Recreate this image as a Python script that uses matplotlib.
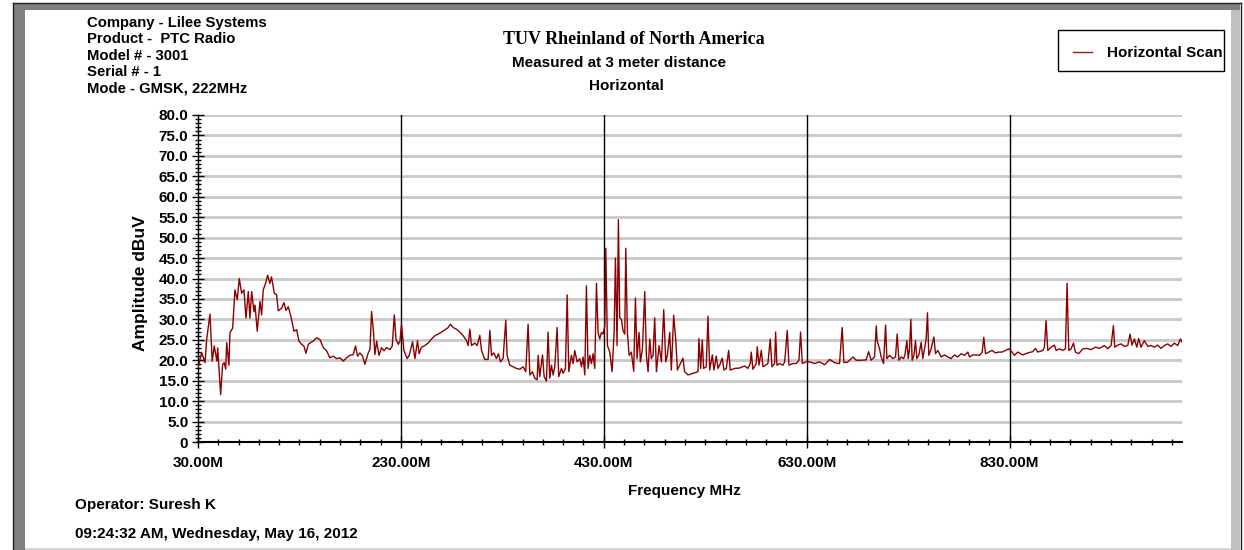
import matplotlib
matplotlib.use("Agg")
import matplotlib.pyplot as plt
from matplotlib.patches import Rectangle
from matplotlib.lines import Line2D
from matplotlib.ticker import MultipleLocator, FixedLocator, FuncFormatter

plt.rcParams['font.family'] = ['Liberation Sans', 'DejaVu Sans']
plt.rcParams['font.weight'] = 'bold'

# frequency (MHz) and amplitude (dBuV)
freq = [30, 33.6, 37, 38.5, 41.8, 44, 46, 48.6, 49.4, 52.3, 54.3, 55.9, 57.3, 58.3, 60.5, 61.5,
        64.2, 66.4, 68.7, 70.7, 73, 75.3, 77.3, 79.6, 81.2, 82.9, 85.2, 86.2, 88.4, 91.1, 92.7,
        94.3, 96.6, 98.6, 100.9, 102.5, 105.2, 107.5, 109.1, 112.4, 114.7, 116.7, 119, 121.6,
        124.6, 127.2, 129.5, 132.1, 134.4, 136.4, 138.7, 141, 143.6, 146.9, 150.2, 153.5, 156.8,
        160, 163.3, 166.6, 169.9, 173.2, 176.5, 179.7, 183, 185.3, 187.3, 189.6, 192.2, 194.5,
        197.8, 199.5, 201.1, 202.8, 204.4, 206.1, 208.4, 211, 213.3, 216, 219.2, 221.5, 223.5,
        225.2, 227.5, 229.1,
        230.6, 233, 236.2, 238.2, 241.5, 243.8, 246.4, 248, 250.3, 253.6, 256.9, 260.2, 263.5,
        266.8, 270, 273.3, 276.6, 278.9, 281.5, 284.8, 288.1, 291.4, 294.7, 296.3, 298, 299.6,
        302.9, 305.2, 307.8, 309.5, 312.7, 316, 317.7, 319.3, 321.6, 324.2, 326.2, 328.2, 330.8,
        333.4, 334.7, 337.4, 340.7, 343.9, 347.2, 350.5, 353.1, 355.4, 357.1, 359.7, 362, 364.3,
        365.3, 366.9, 369.6, 371.2, 373.5, 375.1, 376.8, 378.4, 380.1, 381.7, 384, 385.6, 388.3,
        389.9, 392.2, 393.9, 395.5, 398.1, 399.8, 401.4, 403.7, 406.3, 408, 409.6, 411.3, 412.9,
        414.5, 416.2, 417.8, 419.5, 421.1, 422.8, 424.4, 426, 427.7, 429.3, 431, 432, 433.6,
        435.9, 438.2, 440.2, 441.5, 443.1, 444.4, 445.7, 447.4, 449, 450.7, 451.7, 453.3, 455,
        457.2, 459.5, 461.2, 462.8, 464.8, 466.1, 468.1, 470.4, 472, 473.7, 475.3, 476.9, 478.6,
        480.2, 481.9, 484.5, 486.8, 489.1, 491.1, 492.7, 495, 496.6, 498.9, 500.9, 502.6,
        504.8, 508.1, 509.7, 513, 518, 522.9, 523.8, 525.5, 527.1, 528.4, 531, 532.7, 534.4,
        537, 538.6, 540.9, 542.6, 544.2, 546.8, 548.5, 550.8, 553.1, 554.7, 559, 564, 568.8,
        572.1, 574.4, 575.4, 577, 580.3, 581.3, 583, 585.3, 586.9, 589.5, 591.8, 594.1, 595.8,
        598.4, 599.4, 600.7, 603.3, 606.6, 608.3, 610.9, 612.5, 616.5, 619.7, 622.4, 624, 625.7,
        628.9, 632.9, 637.8, 642.7, 647.7, 652.6, 657.5, 662.4, 665, 666.7, 670.6, 675.6, 678.9,
        683.8, 688.7, 691, 693.6, 696.9, 698.6, 699.5, 701.8, 703.5, 705.8, 707.8, 709.1, 711.7,
        715, 717.6, 719.2, 720.9, 723.2, 725.5, 726.8, 728.8, 730.1, 731.4, 732.7, 734, 735.7,
        737.3, 738.6, 740.6, 742.9, 744.5, 746.2, 747.8, 749.1, 750.4, 752.7, 755.4, 757, 759.3,
        762.6, 765.9, 769.2, 772.4, 775.7, 779, 782.3, 785.6, 788.9, 790.5, 793.8, 797.1, 800.4,
        803, 804.6, 806.3, 809.6, 812.8, 816.1, 819.4, 822.7, 826, 829.3, 832.5, 834.8, 838.1,
        843, 848, 852.9, 855.5, 857.8, 862.8, 864.4, 866, 867.7, 871, 874.3, 875.9, 879.2,
        882.5, 885.1, 886.7, 888.4, 890.7, 893, 894.9, 898.2, 902.2, 906.1, 910.4, 914.7, 918.6,
        923.5, 926.8, 930.1, 932.4, 933.7, 936.6, 939.9, 943.2, 946.5, 948.8, 950.8, 953.1,
        955.4, 957.3, 959.6, 962.9, 966.2, 969.5, 972.8, 976.1, 979.3, 982.6, 985.9, 989.2,
        992.5, 995.8, 998.4, 1000]
amp = [18.2, 21.9, 19.4, 25, 31.3, 19.8, 23.5, 19.8, 23, 11.6, 19, 19.4, 17.8, 24.3, 18.8, 26.7,
       27.9, 37.2, 34.8, 40, 36.4, 37.2, 30.3, 36.8, 30.3, 36.8, 31.9, 33.5, 27.1, 34.4, 31.1,
       37.2, 38.8, 40.8, 38.8, 40.4, 36.4, 36, 32.1, 32.7, 34.1, 32.2, 33.1, 30.7,
       27.1, 27.5, 24.7, 23.9, 23.5, 21.7, 23.9, 24.3, 24.7, 25.5, 25.1, 23.1, 22.3,
       20.6, 21, 20.4, 20.6, 19.8, 20.6, 21.2, 21.4, 23.5, 21, 21.8, 21, 19,
       21.8, 22.6, 31.9, 27.5, 21.4, 24.7, 21.2, 23.1, 22.3, 23.1, 22.6, 23.5, 31.1,
       25.1, 23.9, 24.7,
       28.8, 22.4, 20.4, 21.2, 24.5, 20.4, 24.8, 21.6, 23.2, 23.6, 24.2, 25.2, 26,
       26.4, 26.9, 27.4, 28, 28.8, 28, 27.6, 26.9, 26, 24.8, 23.6, 27.6, 23.6,
       24.2, 23.6, 26.1, 22.4, 20.2, 20.2, 27.3, 21.2, 21.8, 20.4, 21.6, 19.6, 20.5,
       29.8, 21.2, 18.8, 18.4, 18, 17.8, 18.4, 17.2, 28.8, 16.4, 17.2, 15.6, 15.2,
       21.2, 16, 21.3, 16, 14.9, 26.9, 15.6, 18.8, 16.4, 18.4, 28, 16, 18,
       16.8, 18, 36, 17.2, 21.2, 19.2, 22.4, 19.6, 20.4, 18.4, 20.8, 16.4, 38.2,
       18, 21.2, 19.2, 21.6, 18, 38.8, 26.8, 25.2, 26.8, 26.4, 28.4, 47.4, 23.6,
       22, 17.2, 26.8, 45, 23.6, 54.4, 30.4, 30, 27.2, 26.4, 47.4, 26.8, 21.2,
       22, 17.3, 35.2, 20.4, 26.8, 19.6, 22.8, 36.8, 21.2, 17.2, 25.2, 20.4, 21.2,
       30.4, 17.2, 23.6, 19.6, 32.4, 19.6, 21.2, 26.8, 17.6, 31, 25.2, 17.6,
       18.8, 20.5, 17.2, 16.4, 16.8, 17.2, 25.3, 18, 25, 18, 18.4, 30.8, 17.6,
       21.3, 17.6, 21, 18, 18.8, 20.5, 17.6, 18, 22.4, 17.6, 18, 18.1, 18.6,
       18, 19.2, 22, 17.8, 19.2, 23.3, 18.8, 22.4, 18.4, 18.8, 19.2, 25.2, 18.4,
       19.2, 26.9, 18.8, 19.2, 18.8, 19.6, 27.3, 18.8, 19.2, 19.2, 20, 26.9, 19.2,
       19.6, 19.6, 19.2, 19.6, 18.9, 20.2, 19.4, 19.2, 28, 19.4, 19.6, 20.8, 20,
       20, 20.1, 22.1, 20, 20.8, 28.4, 24.8, 22.8, 20.8, 19.2, 28.6, 20.4, 21.2,
       20.4, 20.8, 26.4, 20, 20.8, 20.4, 21.2, 24.8, 20.4, 22.8, 30, 20, 21.2,
       24.8, 20.4, 21.3, 24.4, 20.4, 22.8, 25.2, 31.6, 21.2, 22.8, 25.7, 21.6, 22.4,
       20.8, 21.3, 20.8, 20.4, 21.3, 20.8, 21.6, 21.2, 22, 20.8, 21.3, 21.3, 21.2,
       22, 25.6, 21.6, 22, 22.4, 21.8, 22, 22, 22.4, 22.8, 22, 21.2, 22,
       21.3, 21.8, 22.1, 22.9, 22, 22.4, 23.2, 29.7, 22.4, 23.2, 23.7, 22.4, 22.8,
       22.4, 22.8, 38.8, 22.4, 22.8, 24.2, 22, 21.6, 22.8, 22.9, 22.6, 23.2, 22.9,
       23.6, 22.8, 23.6, 28.5, 23.2, 23.7, 24, 23.4, 23.6, 26.4, 23.7, 25.2,
       23.2, 25.3, 23.2, 24.8, 23.4, 23.6, 23.2, 23.7, 22.9, 23.6, 24, 23.4,
       24.2, 23.6, 25.2, 24.5]

major_x = [30, 230, 430, 630, 830]
minor_x = list(range(50, 1000, 20))

W, H = 1244, 550
fig = plt.figure(figsize=(W / 100, H / 100), dpi=100)


def fx(px):
    return px / W


def fy(py):
    return 1 - py / H


# --- panel frame (sunken look) ---
fig.add_artist(Rectangle((fx(13), 0), 12 / W, fy(3), transform=fig.transFigure,
                         facecolor='#808080', edgecolor='none'))
fig.add_artist(Rectangle((fx(13), fy(10)), (1240 - 13) / W, 7 / H, transform=fig.transFigure,
                         facecolor='#808080', edgecolor='none'))
fig.add_artist(Line2D([fx(13), fx(13)], [0, fy(3)], transform=fig.transFigure, color='#202020', lw=1))
fig.add_artist(Line2D([fx(13), fx(1241)], [fy(3), fy(3)], transform=fig.transFigure, color='#202020', lw=1))
fig.add_artist(Rectangle((fx(1231), 0), 9 / W, fy(10), transform=fig.transFigure,
                         facecolor='#c0c0c0', edgecolor='none'))
fig.add_artist(Line2D([fx(1241), fx(1241)], [0, fy(3)], transform=fig.transFigure, color='#202020', lw=1))
fig.add_artist(Rectangle((fx(25), 0), (1231 - 25) / W, 2.5 / H, transform=fig.transFigure,
                         facecolor='#d4d4d4', edgecolor='none'))

# --- plot area ---
ax = fig.add_axes([fx(198), fy(442), (1182 - 198) / W, (442 - 115) / H])
ax.set_facecolor('none')
for y in range(5, 81, 5):
    ax.axhline(y, color='#c8c8c8', lw=2, zorder=1)
for x in major_x[1:]:
    ax.axvline(x, color='black', lw=1, zorder=1)
ax.plot(freq, amp, color='#8b0000', lw=1.0, zorder=3)

ax.set_xlim(30, 1000)
ax.set_ylim(0, 80)
ax.set_yticks(range(0, 81, 5))
ax.yaxis.set_minor_locator(MultipleLocator(1))
ax.set_xticks(major_x)
ax.xaxis.set_minor_locator(FixedLocator(minor_x))
ax.yaxis.set_major_formatter(FuncFormatter(lambda v, p: '0' if v == 0 else f'{v:.1f}'))
ax.xaxis.set_major_formatter(FuncFormatter(lambda v, p: f'{v:.2f}M'))
ax.tick_params(which='major', direction='inout', length=8, width=1, labelsize=11, pad=3)
ax.tick_params(which='minor', direction='inout', length=5, width=1)
ax.tick_params(axis='x', pad=6)
for s in ['top', 'right']:
    ax.spines[s].set_visible(False)
ax.spines['left'].set_linewidth(1)
ax.spines['bottom'].set_linewidth(1.5)

# --- texts ---
head = ['Company - Lilee Systems', 'Product -  PTC Radio', 'Model # - 3001',
        'Serial # - 1', 'Mode - GMSK, 222MHz']
for i, t in enumerate(head):
    fig.text(fx(87), fy(22.5 + i * 16.5), t, fontsize=10.7, va='center', ha='left')

fig.text(fx(634), fy(39), 'TUV Rheinland of North America', family='Liberation Serif',
         fontsize=13, weight='bold', ha='center', va='center')
fig.text(fx(619), fy(63), 'Measured at 3 meter distance', fontsize=11, ha='center', va='center')
fig.text(fx(626), fy(86), 'Horizontal', fontsize=11, ha='center', va='center')

fig.text(fx(140), fy(283), 'Amplitude dBuV', fontsize=12.5, rotation=90, ha='center', va='center')
fig.text(fx(684), fy(491), 'Frequency MHz', fontsize=11, ha='center', va='center')
fig.text(fx(75), fy(505), 'Operator: Suresh K', fontsize=11, ha='left', va='center')
fig.text(fx(75), fy(534), '09:24:32 AM, Wednesday, May 16, 2012', fontsize=11, ha='left', va='center')

# --- legend box ---
box = Rectangle((fx(1058), fy(71)), (1224 - 1058) / W, (71 - 30) / H, transform=fig.transFigure,
                facecolor='white', edgecolor='black', lw=1)
fig.add_artist(box)
fig.add_artist(Line2D([fx(1073), fx(1092)], [fy(52), fy(52)], transform=fig.transFigure,
                      color='#a01818', lw=1))
lt = fig.text(fx(1107), fy(53), 'Horizontal Scan', fontsize=11, ha='left', va='center')
lt.set_clip_path(box)

fig.savefig('out.png', dpi=100)
